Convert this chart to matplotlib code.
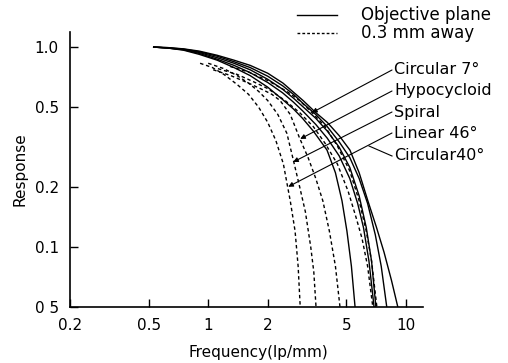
import matplotlib
matplotlib.use("Agg")
import matplotlib.pyplot as plt
from matplotlib.lines import Line2D

# ---- data ----
# solid curves: objective plane
solid_f = [
    [0.53, 0.62, 0.75, 0.9, 1.11, 1.35, 1.63, 2.0, 2.36, 2.7, 3.0, 3.4, 3.99, 4.4, 4.75, 5.03, 5.3, 5.53],
    [0.53, 0.62, 0.75, 0.9, 1.11, 1.35, 1.63, 2.0, 2.38, 2.7, 3.0, 3.5, 4.0, 4.6, 5.2, 5.7, 6.1, 6.5, 6.9],
    [0.53, 0.62, 0.75, 0.9, 1.11, 1.35, 1.63, 2.0, 2.38, 2.7, 3.0, 3.5, 4.0, 4.6, 5.2, 5.8, 6.3, 6.7, 7.05],
    [0.53, 0.62, 0.75, 0.9, 1.11, 1.35, 1.63, 2.0, 2.38, 2.7, 3.0, 3.5, 4.0, 4.6, 5.2, 5.8, 6.4, 7.0, 7.5, 8.0],
    [0.53, 0.62, 0.75, 0.9, 1.11, 1.35, 1.63, 2.0, 2.39, 3.02, 3.5, 4.0, 4.6, 5.21, 5.8, 6.42, 7.1, 7.75, 8.45, 9.1],
]
solid_r = [
    [1.0, 0.99, 0.965, 0.92, 0.86, 0.79, 0.72, 0.63, 0.55, 0.49, 0.44, 0.38, 0.305, 0.235, 0.17, 0.12, 0.08, 0.05],
    [1.0, 0.99, 0.97, 0.93, 0.87, 0.81, 0.745, 0.665, 0.59, 0.53, 0.48, 0.41, 0.35, 0.285, 0.22, 0.165, 0.125, 0.085, 0.05],
    [1.0, 0.99, 0.973, 0.94, 0.885, 0.83, 0.77, 0.69, 0.615, 0.555, 0.505, 0.44, 0.38, 0.315, 0.25, 0.18, 0.125, 0.085, 0.05],
    [1.0, 0.993, 0.977, 0.948, 0.9, 0.845, 0.79, 0.715, 0.64, 0.58, 0.525, 0.46, 0.40, 0.335, 0.28, 0.22, 0.165, 0.115, 0.08, 0.05],
    [1.0, 0.995, 0.98, 0.955, 0.91, 0.86, 0.81, 0.74, 0.66, 0.54, 0.47, 0.42, 0.36, 0.305, 0.235, 0.17, 0.125, 0.094, 0.068, 0.05],
]
# dashed curves: 0.3 mm away
dashed_f = [
    [0.91, 1.05, 1.2, 1.4, 1.6, 1.8, 2.0, 2.2, 2.4, 2.6, 2.75, 2.85, 2.92],
    [1.0, 1.2, 1.4, 1.6, 1.8, 2.0, 2.25, 2.5, 2.7, 2.9, 3.1, 3.3, 3.42, 3.51],
    [1.06, 1.3, 1.6, 1.9, 2.1, 2.31, 2.6, 2.9, 3.2, 3.5, 3.8, 4.1, 4.4, 4.64],
    [1.12, 1.4, 1.7, 2.0, 2.45, 2.9, 3.4, 3.9, 4.5, 5.1, 5.6, 6.0, 6.4, 6.8],
    [1.29, 1.6, 2.0, 2.5, 2.9, 3.35, 3.9, 4.5, 5.2, 5.8, 6.3, 6.7, 7.13],
]
dashed_r = [
    [0.83, 0.79, 0.73, 0.65, 0.58, 0.50, 0.42, 0.34, 0.26, 0.17, 0.12, 0.08, 0.05],
    [0.83, 0.78, 0.72, 0.66, 0.60, 0.54, 0.46, 0.37, 0.27, 0.20, 0.15, 0.10, 0.075, 0.05],
    [0.77, 0.72, 0.66, 0.61, 0.58, 0.54, 0.46, 0.35, 0.28, 0.22, 0.17, 0.12, 0.08, 0.05],
    [0.78, 0.73, 0.67, 0.62, 0.54, 0.47, 0.40, 0.33, 0.26, 0.19, 0.14, 0.11, 0.08, 0.05],
    [0.80, 0.75, 0.68, 0.60, 0.54, 0.47, 0.40, 0.32, 0.24, 0.17, 0.12, 0.085, 0.05],
]
labels = ["Circular 7°", "Hypocycloid", "Spiral", "Linear 46°", "Circular40°"]
label_tips = [(3.35, 0.47), (2.92, 0.347), (2.69, 0.266), (2.54, 0.20), None]
xticks = [0.2, 0.5, 1, 2, 5, 10]
xticklabels = ["0.2", "0.5", "1", "2", "5", "10"]
yticks = [0.05, 0.1, 0.2, 0.5, 1.0]
yticklabels = ["0 5", "0.1", "0.2", "0.5", "1.0"]

W, H = 508, 363
fig = plt.figure(figsize=(W / 100, H / 100), dpi=100)
ax = fig.add_axes([70 / W, 1 - 307 / H, (423 - 70) / W, (307 - 32) / H])
ax.set_xscale("log")
ax.set_yscale("log")
ax.set_xlim(0.2, 12.2)
ax.set_ylim(0.05, 1.19)

for f, r in zip(solid_f, solid_r):
    ax.plot(f, r, color="black", lw=1.0, solid_joinstyle="round")
for f, r in zip(dashed_f, dashed_r):
    ax.plot(f, r, color="black", lw=1.0, linestyle=(0, (2.5, 2.0)))

ax.spines["top"].set_visible(False)
ax.spines["right"].set_visible(False)
for s in ("left", "bottom"):
    ax.spines[s].set_linewidth(1.2)
ax.set_xticks(xticks)
ax.set_xticklabels(xticklabels)
ax.set_yticks(yticks)
ax.set_yticklabels(yticklabels)
ax.minorticks_off()
ax.tick_params(direction="in", length=6, width=1.0, labelsize=11)
ax.tick_params(axis="x", pad=8)
ax.tick_params(axis="y", pad=8)
ax.set_xlabel("Frequency(lp/mm)", fontsize=11)
ax.set_ylabel("Response", fontsize=11)
ax.xaxis.set_label_coords(0.535, -0.14)
ax.yaxis.set_label_coords(-0.12, 0.5)

# legend
def fx(px):
    return px / W

def fy(py):
    return 1 - py / H

fig.add_artist(Line2D([fx(297), fx(337)], [fy(15), fy(15)], color="black", lw=1.0))
fig.add_artist(Line2D([fx(297), fx(337)], [fy(33), fy(33)], color="black", lw=1.0,
                      linestyle=(0, (2.0, 1.5))))
fig.text(fx(361), fy(15), "Objective plane", fontsize=12, va="center", ha="left")
fig.text(fx(361), fy(33), "0.3 mm away", fontsize=12, va="center", ha="left")

label_y = [70, 91, 112, 133, 156]
for lab, py, tip in zip(labels, label_y, label_tips):
    fig.text(fx(394), fy(py), lab, fontsize=11.5, va="center", ha="left")
    if tip is not None:
        ax.annotate("", xy=tip, xycoords="data", xytext=(392, H - py),
                    textcoords="figure pixels",
                    arrowprops=dict(arrowstyle="-|>", color="black", lw=0.8,
                                    mutation_scale=7, shrinkA=0, shrinkB=0))
    else:
        fig.add_artist(Line2D([fx(392), fx(369)], [fy(py), fy(146)], color="black", lw=0.8))

fig.savefig("out.png", dpi=100)
